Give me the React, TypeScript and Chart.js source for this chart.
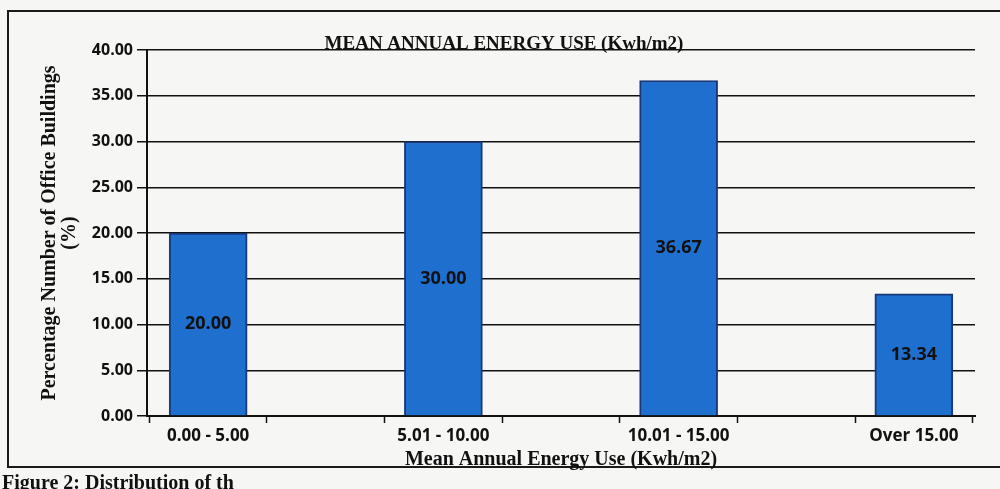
import React, { useEffect, useRef } from "react";
import { Chart, registerables } from "chart.js";

Chart.register(...registerables);

const chartTitle = "MEAN ANNUAL ENERGY USE (Kwh/m2)";
const xAxisTitle = "Mean Annual Energy Use (Kwh/m2)";
const yAxisTitle = ["Percentage Number of Office Buildings", "(%)"];
const caption = "Figure 2: Distribution of th";
const categories = ["0.00 - 5.00", "5.01 - 10.00", "10.01 - 15.00", "Over 15.00"];
const values = [20.0, 30.0, 36.67, 13.34];
const yMin = 0;
const yMax = 40;
const yStep = 5;

const SANS = "'Open Sans', 'Liberation Sans', sans-serif";
const SERIF = "'Liberation Serif', 'DejaVu Serif', serif";

export default function App() {
  const ref = useRef<HTMLCanvasElement | null>(null);

  useEffect(() => {
    document.body.style.margin = "0";
    document.body.style.background = "#f6f6f4";
    const canvas = ref.current;
    if (!canvas) return;

    const titlePlugin = {
      id: "topTitle",
      afterDraw(chart: any) {
        const { ctx, chartArea } = chart;
        ctx.save();
        ctx.font = `bold 19px ${SERIF}`;
        ctx.fillStyle = "#111";
        ctx.textAlign = "center";
        ctx.textBaseline = "alphabetic";
        ctx.fillText(chartTitle, chart.width / 2 + 4, chartArea.top - 1);
        ctx.restore();
      },
    };

    const labelPlugin = {
      id: "barLabels",
      afterDatasetsDraw(chart: any) {
        const { ctx } = chart;
        const meta = chart.getDatasetMeta(0);
        ctx.save();
        ctx.font = `bold 18px ${SANS}`;
        ctx.fillStyle = "#111";
        ctx.textAlign = "center";
        ctx.textBaseline = "middle";
        meta.data.forEach((bar: any, i: number) => {
          const y = (bar.y + bar.base) / 2;
          ctx.fillText(values[i].toFixed(2), bar.x, y);
        });
        ctx.restore();
      },
    };

    const chart = new Chart(canvas, {
      type: "bar",
      data: {
        datasets: [
          {
            data: values.map((v, i) => ({ x: i, y: v })),
            backgroundColor: "#1f6fcf",
            borderColor: "#17397a",
            borderWidth: 2,
            barThickness: 78,
          },
        ],
      },
      options: {
        responsive: false,
        animation: false,
        layout: { padding: { left: 40, top: 50, right: 25, bottom: 19 } },
        plugins: { legend: { display: false }, tooltip: { enabled: false }, title: { display: false } },
        scales: {
          x: {
            type: "linear",
            offset: false,
            min: -0.26,
            max: categories.length - 1 + 0.26,
            afterBuildTicks(scale: any) {
              const t: number[] = [];
              for (let i = 0; i < categories.length; i++) t.push(i);
              for (let k = -0.25; k <= categories.length - 0.75 + 1e-9; k += 0.5) t.push(k);
              t.sort((a, b) => a - b);
              scale.ticks = t.map((v) => ({ value: v }));
            },
            afterFit(scale: any) {
              scale.height = 54;
            },
            ticks: {
              autoSkip: false,
              maxRotation: 0,
              padding: 3,
              color: "#111",
              font: { family: SANS, size: 17, weight: "bold" },
              callback: (v: any) => (Number.isInteger(v) ? categories[v] : ""),
            },
            grid: {
              display: true,
              offset: false,
              drawOnChartArea: false,
              drawTicks: true,
              tickLength: 7,
              tickWidth: 1.5,
              tickColor: (ctx: any) =>
                ctx.tick && Number.isInteger(ctx.tick.value) ? "rgba(0,0,0,0)" : "#111",
            },
            border: { display: true, color: "#111", width: 2 },
            title: {
              display: true,
              text: xAxisTitle,
              color: "#111",
              font: { family: SERIF, size: 20, weight: "bold", lineHeight: 1.0 },
              padding: { top: 0, bottom: 0 },
            },
          },
          y: {
            min: yMin,
            max: yMax,
            afterFit(scale: any) {
              scale.width = 107;
            },
            ticks: {
              stepSize: yStep,
              padding: 4,
              color: "#111",
              font: { family: SANS, size: 16, weight: "bold" },
              callback: (v: any) => Number(v).toFixed(2),
            },
            grid: {
              color: "#111",
              lineWidth: 1.5,
              drawTicks: true,
              tickLength: 10,
            },
            border: { display: true, color: "#111", width: 2 },
            title: {
              display: true,
              text: yAxisTitle,
              color: "#111",
              font: { family: SERIF, size: 20, weight: "bold", lineHeight: 1.0 },
              padding: { top: 0, bottom: 0 },
            },
          },
        },
      },
      plugins: [titlePlugin, labelPlugin],
    } as any);

    return () => chart.destroy();
  }, []);

  return (
    <div style={{ position: "relative", width: 1000, height: 489, overflow: "hidden", background: "#f6f6f4" }}>
      <div
        style={{
          position: "absolute",
          left: 7,
          top: 10,
          width: 1010,
          height: 454,
          borderLeft: "2px solid #1a1a1a",
          borderTop: "2px solid #1a1a1a",
          borderBottom: "2px solid #1a1a1a",
        }}
      />
      <canvas ref={ref} width={1000} height={489} style={{ position: "absolute", left: 0, top: 0 }} />
      <div
        style={{
          position: "absolute",
          left: 2,
          top: 472,
          font: `bold 20px ${SERIF}`,
          lineHeight: "20px",
          color: "#111",
          whiteSpace: "nowrap",
        }}
      >
        {caption}
      </div>
    </div>
  );
}
